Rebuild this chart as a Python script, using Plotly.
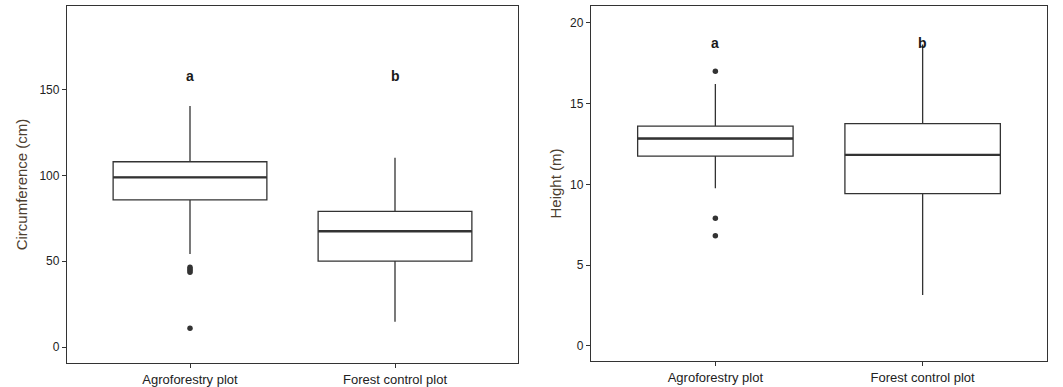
import plotly.graph_objects as go

categories = ["Agroforestry plot", "Forest control plot"]
cat_pos = [1, 2]

# Circumference (cm) box statistics
circ_q1 = [85.7, 50.0]
circ_median = [98.8, 67.4]
circ_q3 = [107.9, 79.0]
circ_lower = [54.2, 14.7]
circ_upper = [140.3, 110.3]
circ_out_x = [1, 1, 1, 1, 1]
circ_out_y = [43.5, 44.5, 45.5, 46.5, 11.0]
circ_letters = ["a", "b"]
circ_letter_y = [158, 158]

# Height (m) box statistics
h_q1 = [11.74, 9.42]
h_median = [12.83, 11.82]
h_q3 = [13.60, 13.76]
h_lower = [9.75, 3.16]
h_upper = [16.2, 18.65]
h_out_x = [1, 1, 1]
h_out_y = [17.0, 7.9, 6.82]
h_letters = ["a", "b"]
h_letter_y = [18.75, 18.75]

BOXW = 0.75
LINE = "#333333"

fig = go.Figure()


def add_panel(q1, med, q3, lo, hi, ox, oy, letters, ly, xa, ya):
    for i, c in enumerate(cat_pos):
        fig.add_trace(go.Box(
            x=[c], q1=[q1[i]], median=[med[i]], q3=[q3[i]],
            lowerfence=[lo[i]], upperfence=[hi[i]],
            width=BOXW, whiskerwidth=0, boxpoints=False,
            fillcolor="white", line=dict(color=LINE, width=1.3),
            xaxis=xa, yaxis=ya, showlegend=False, hoverinfo="skip"))
        fig.add_trace(go.Scatter(
            x=[c - BOXW / 2, c + BOXW / 2], y=[med[i], med[i]],
            mode="lines", line=dict(color=LINE, width=2.4),
            xaxis=xa, yaxis=ya, showlegend=False, hoverinfo="skip"))
    fig.add_trace(go.Scatter(
        x=ox, y=oy, mode="markers",
        marker=dict(color=LINE, size=5.5),
        xaxis=xa, yaxis=ya, showlegend=False, hoverinfo="skip"))
    for i, c in enumerate(cat_pos):
        fig.add_annotation(x=c, y=ly[i], text="<b>%s</b>" % letters[i],
                           showarrow=False, xref=xa, yref=ya,
                           font=dict(size=14, color="#1a1a1a", family="Liberation Sans, Arial"))


add_panel(circ_q1, circ_median, circ_q3, circ_lower, circ_upper,
          circ_out_x, circ_out_y, circ_letters, circ_letter_y, "x", "y")
add_panel(h_q1, h_median, h_q3, h_lower, h_upper,
          h_out_x, h_out_y, h_letters, h_letter_y, "x2", "y2")

axis_common = dict(showline=True, linecolor=LINE, linewidth=1.3, mirror=True,
                   ticks="outside", ticklen=4, tickcolor=LINE, tickwidth=1,
                   showgrid=False, zeroline=False)

xcommon = dict(axis_common, range=[0.4, 2.6], tickvals=cat_pos, ticktext=categories,
               tickfont=dict(size=13, color="#222222", family="Liberation Sans, Arial"))

fig.update_layout(
    width=1063, height=387,
    margin=dict(l=0, r=0, t=0, b=0),
    paper_bgcolor="white", plot_bgcolor="white",
    font=dict(family="Liberation Sans, Arial", color="#222222"),
    xaxis=dict(xcommon, domain=[67 / 1063, 518 / 1063], anchor="y"),
    xaxis2=dict(xcommon, domain=[591 / 1063, 1047 / 1063], anchor="y2"),
    yaxis=dict(axis_common, domain=[1 - 363 / 387, 1 - 6 / 387], anchor="x",
               range=[-9.3, 198.6], tickvals=[0, 50, 100, 150],
               tickfont=dict(size=12, color="#222222"),
               title=dict(text="Circumference (cm)", standoff=8,
                          font=dict(size=15, color="#4d4030"))),
    yaxis2=dict(axis_common, domain=[1 - 361 / 387, 1 - 6 / 387], anchor="x2",
                range=[-0.93, 21.03], tickvals=[0, 5, 10, 15, 20],
                tickfont=dict(size=12, color="#222222"),
                title=dict(text="Height (m)", standoff=4,
                           font=dict(size=15, color="#4d4030"))),
)

fig.write_html("out.html")
